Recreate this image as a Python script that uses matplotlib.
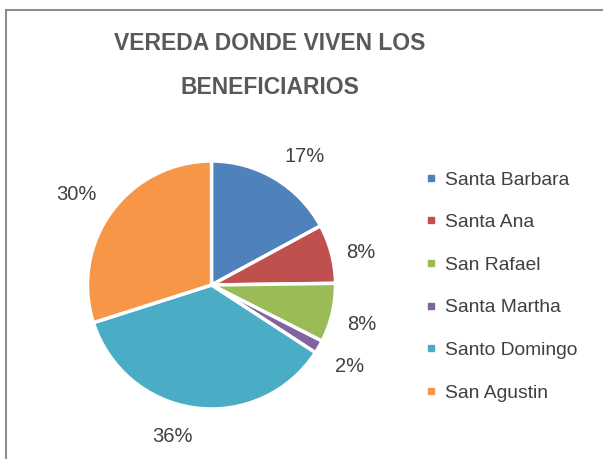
import numpy as np
import matplotlib
matplotlib.use("Agg")
import matplotlib.pyplot as plt
import matplotlib.transforms as mtransforms
from matplotlib.lines import Line2D
from matplotlib.patches import Rectangle

categories = ["Santa Barbara", "Santa Ana", "San Rafael", "Santa Martha", "Santo Domingo", "San Agustin"]
values = [20, 9, 9, 2, 42, 35]
colors = ["#4F81BD", "#C0504D", "#9BBB59", "#8064A2", "#4BACC6", "#F79646"]
title = "VEREDA DONDE VIVEN LOS\nBENEFICIARIOS"

W, H = 603, 459
plt.rcParams['font.family'] = ['Liberation Sans', 'DejaVu Sans']
fig = plt.figure(figsize=(W / 100, H / 100), dpi=100)

# border (top and left visible)
fig.patches.append(Rectangle((6 / W, -0.1), 1.2, 1 - 10 / H + 0.1, transform=fig.transFigure,
                             fill=False, edgecolor="#8c8c8c", linewidth=1.5))

cx, cy, r = 211.5, H - 285, 124
half = 1.5 * r
ax = fig.add_axes([(cx - half) / W, (cy - half) / H, 2 * half / W, 2 * half / H])

wedges, texts, autotexts = ax.pie(values, colors=colors, startangle=90, counterclock=False,
                                  radius=1, autopct=lambda p: f"{p:.0f}%", pctdistance=1.28,
                                  wedgeprops=dict(edgecolor="white", linewidth=2.5),
                                  textprops=dict(color="#404040", fontsize=14.5))
ax.set_xlim(-1.5, 1.5)
ax.set_ylim(-1.5, 1.5)
ax.axis("off")

# Excel-like "outside end" placement of the labels
for w, t in zip(wedges, autotexts):
    ang = np.deg2rad(0.5 * (w.theta1 + w.theta2))
    c, s = np.cos(ang), np.sin(ang)
    rr = 1.15 if abs(s) > 0.5 else 1.12
    t.set_position((rr * c, rr * s))
    t.set_ha("left" if c > 0 else "right")
    t.set_va("center")
    dy = 7.2 * s - 4.0 * max(c, 0)
    t.set_transform(ax.transData + mtransforms.ScaledTranslation(0, dy / 72, fig.dpi_scale_trans))
    t.set_clip_on(False)

fig.text(270 / W, 1 - 65.5 / H, title, ha="center", va="center",
         fontsize=16.5, fontweight="bold", color="#595959", linespacing=2.15)

handles = [Line2D([0], [0], marker="s", linestyle="none", markersize=5,
                  markerfacecolor=c, markeredgecolor=c) for c in colors]
fig.legend(handles, categories, loc="upper left", bbox_to_anchor=(423 / W, 1 - 171 / H),
           frameon=False, fontsize=13.9, labelcolor="#404040", handlelength=0.8,
           handletextpad=0.35, labelspacing=1.30, borderaxespad=0, borderpad=0)

fig.savefig("out.png", dpi=100)
